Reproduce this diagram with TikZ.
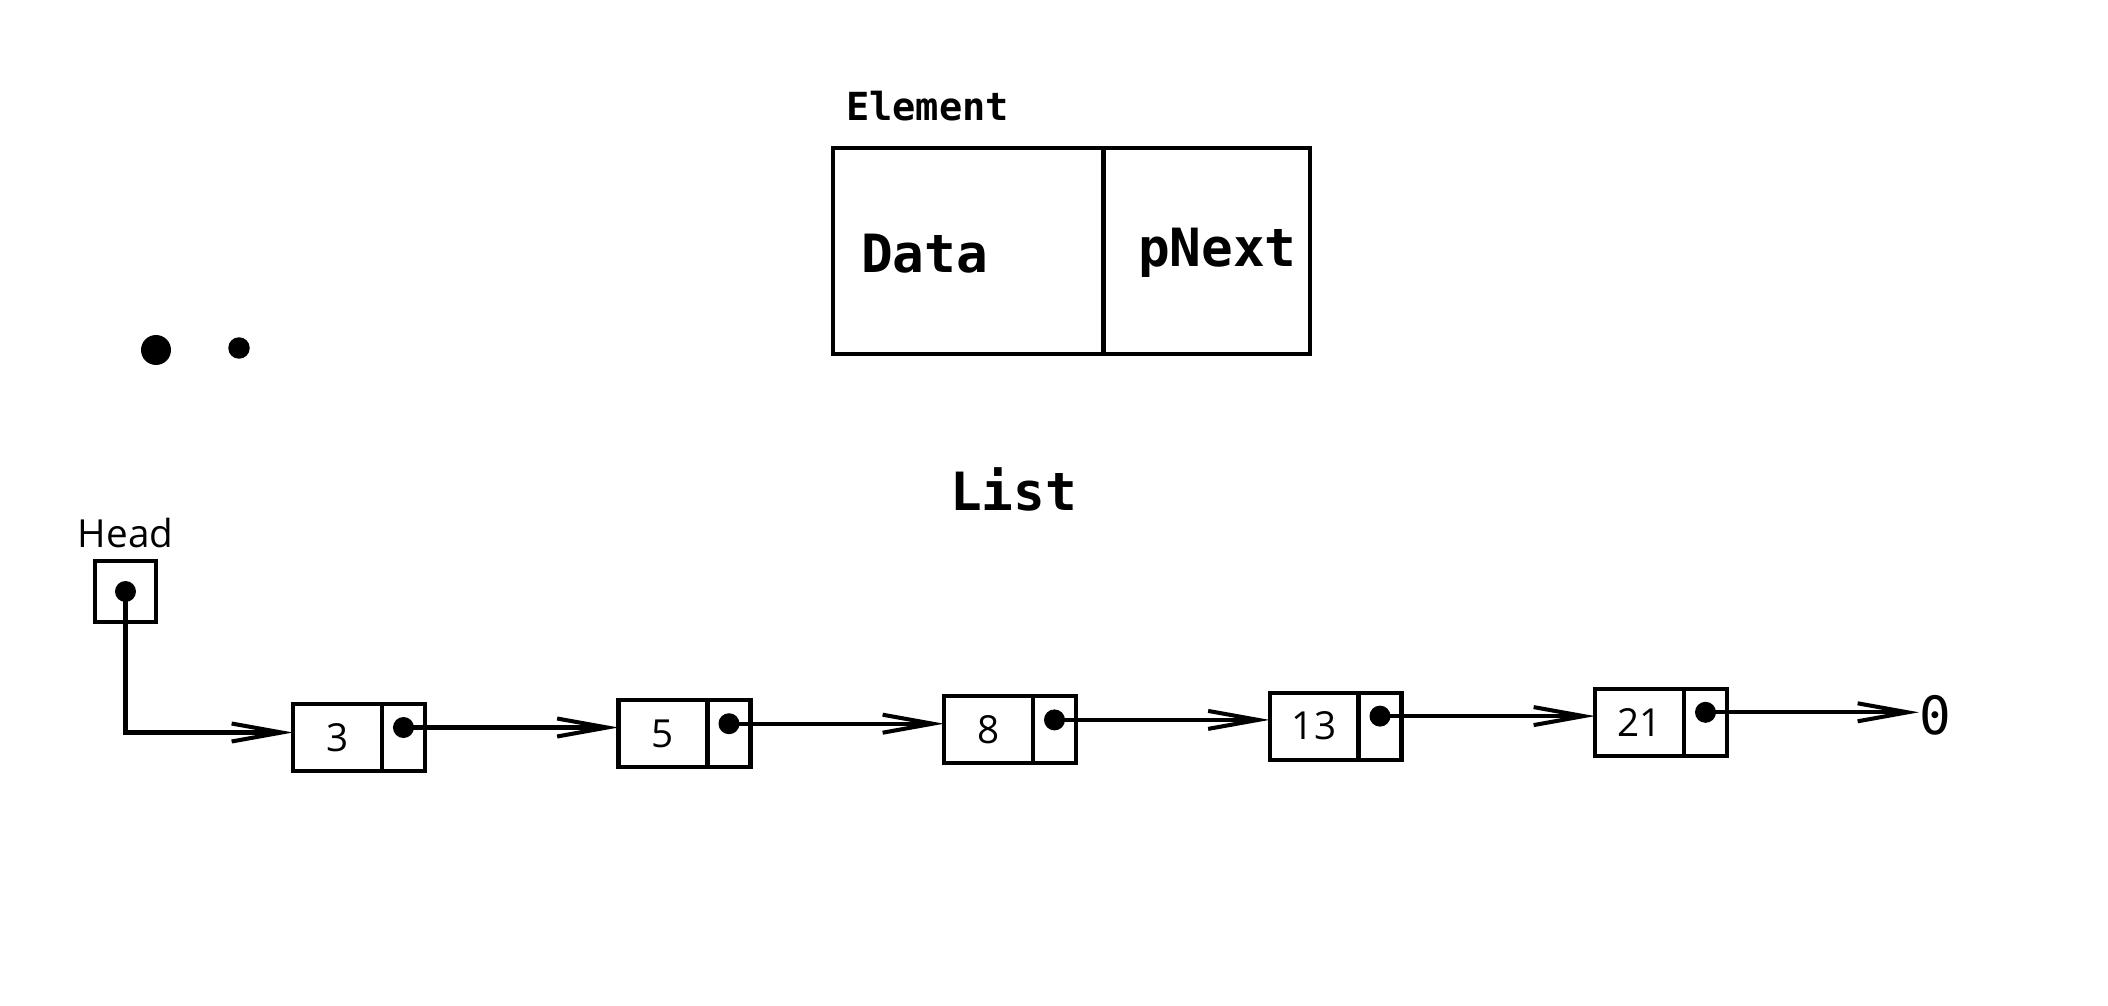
\documentclass[tikz,border=0pt]{standalone}
\usepackage{fontspec}
\newfontfamily\monofont{DejaVu Sans Mono}
\newfontfamily\numfont{Open Sans}
\usetikzlibrary{positioning,arrows.meta}

\begin{document}
\begin{tikzpicture}
	[
	x=0.02cm, y=-0.02cm,
	line width=2.3pt,
	every node/.style={outer sep=0pt},
	field/.style={rectangle,draw,minimum height=1.34cm,inner sep=0pt,font=\numfont\fontsize{22pt}{26pt}\selectfont},
	datafield/.style={field,minimum width=1.78cm},
	ptrfield/.style={field,minimum width=0.86cm},
	elemfield/.style={rectangle,draw,minimum height=4.12cm,inner sep=0pt},
	pointer/.style={circle,fill,inner sep=0pt,minimum size=0.42cm},
	link/.style={-{Straight Barb[length=1cm,width=0.36cm]}},
	smallword/.style={inner sep=0pt,font=\monofont\bfseries\fontsize{22pt}{26pt}\selectfont},
	bigword/.style={inner sep=0pt,font=\monofont\bfseries\fontsize{30pt}{36pt}\selectfont},
	numword/.style={inner sep=0pt,font=\numfont\fontsize{22pt}{26pt}\selectfont},
	]
	\useasboundingbox (0,0) rectangle (2108,1006);

	\node[elemfield,minimum width=5.42cm] (edata) at (968,251) {};
	\node[elemfield,minimum width=4.14cm,right=0pt of edata] (enext) {};
	\node[smallword,anchor=base west] (etitle) at (846,120.5) {Element};
	\node[bigword,anchor=base west] (edatatext) at (861,273) {Data};
	\node[bigword,anchor=base west] (enexttext) at (1138,267) {pNext};

	\node[pointer,minimum size=0.6cm] (bigdot) at (156,350) {};
	\node[pointer,minimum size=0.43cm] (smalldot) at (239,348) {};

	\node[bigword,anchor=base west] (ltitle) at (950,510) {List};

	\node[rectangle,draw,minimum size=1.22cm] (head) at (125.5,591.5) {};
	\node[numword,above=0.26cm of head] (headtext) {Head};
	\node[pointer] (hq) at (head.center) {};

	\foreach \v [count=\i] in {3,5,8,13,21}{
		\node[datafield] (d\i) at ({337.5+325.5*(\i-1)},{737.5-3.8*(\i-1)}) {\v};
		\node[ptrfield,right=0pt of d\i] (p\i) {};
		\node[pointer] (q\i) at ([yshift=0.2cm]p\i.center) {};
	}
	\node[inner sep=0pt,font=\monofont\fontsize{30pt}{36pt}\selectfont,anchor=west] (null) at (1919,715) {0};

	\draw[link] (hq.center) |- ([yshift=0.1cm]d1.west);
	\foreach \i [evaluate=\i as \j using int(\i+1)] in {1,...,4}
		\draw[link] (q\i.center) -- (q\i.center -| d\j.west);
	\draw[link] (q5.center) -- (q5.center -| null.west);
\end{tikzpicture}
\end{document}
